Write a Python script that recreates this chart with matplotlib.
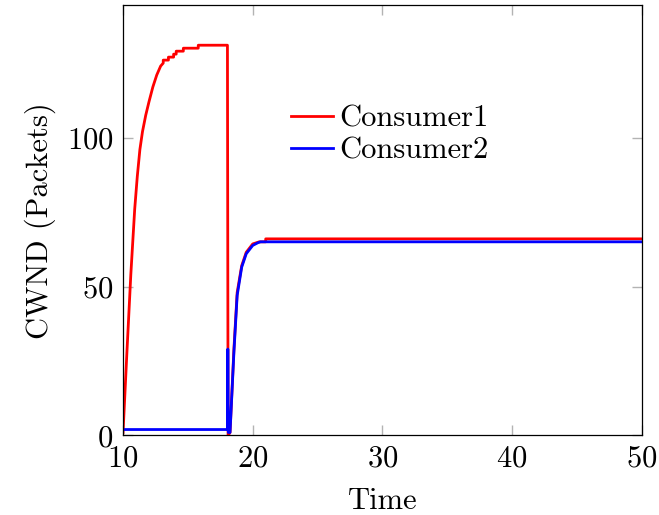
import matplotlib.pyplot as plt

plt.rcParams['font.family'] = 'cmr10'
plt.rcParams['mathtext.fontset'] = 'cm'
plt.rcParams['axes.formatter.use_mathtext'] = True

# congestion window samples for the two consumers
time_c1 = [10.0, 10.3, 10.6, 10.9, 11.1, 11.3, 11.5, 11.75, 12.0, 12.3, 12.6, 12.9,
           13.1, 13.1, 13.5, 13.5, 13.9, 13.9, 14.1, 14.1, 14.65, 14.65, 15.8, 15.8,
           18.05, 18.1, 18.25, 18.55, 18.8, 19.15, 19.5, 20.0, 20.5, 21.0, 21.0, 50.0]
cwnd_c1 = [1, 28, 54, 76, 87, 96, 102, 107.5, 112, 117, 121, 124,
           125, 126, 126, 127, 127, 128, 128, 129, 129, 130, 130, 131,
           131, 0, 1, 29, 48, 57, 61.5, 64.3, 65, 65, 66, 66]

time_c2 = [10.0, 18.05, 18.08, 18.12, 18.25, 18.55, 18.8, 19.15, 19.5, 20.0,
           20.4, 20.6, 50.0]
cwnd_c2 = [2, 2, 29, 1, 1, 28, 47, 56.5, 61, 63.8,
           64.7, 65, 65]

fig = plt.figure(figsize=(6.59, 5.15), dpi=100)
ax = fig.add_axes([0.1867, 0.1544, 0.7872, 0.8359])

ax.plot(time_c1, cwnd_c1, color='red', lw=2.0, label='Consumer1')
ax.plot(time_c2, cwnd_c2, color='blue', lw=2.0, label='Consumer2')

ax.set_xlim(10, 50)
ax.set_ylim(0, 144.5)
ax.set_xticks([10, 20, 30, 40, 50])
ax.set_yticks([0, 50, 100])

ax.tick_params(direction='in', length=7, width=1, color='0.7',
               top=True, right=True, labelsize=22, pad=7)
for sp in ax.spines.values():
    sp.set_linewidth(0.9)
    sp.set_color('black')

ax.set_xlabel('Time', fontsize=22, labelpad=11)
ax.set_ylabel('CWND (Packets)', fontsize=22, labelpad=8)

ax.legend(loc='upper left', bbox_to_anchor=(0.301, 0.795), frameon=False,
          fontsize=22, handlelength=1.35, handletextpad=0.2,
          labelspacing=0.13, borderaxespad=0)

plt.savefig('out.png', dpi=100)
plt.close()
